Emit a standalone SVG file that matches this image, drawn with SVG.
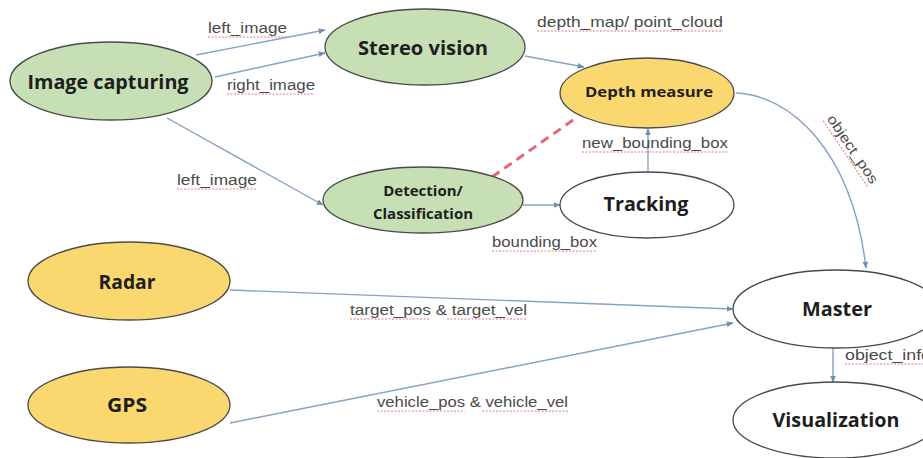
<svg xmlns="http://www.w3.org/2000/svg" width="923" height="458" viewBox="0 0 923 458">
<style>
.node{stroke:#4a4a4a;stroke-width:1.3}
.green{fill:#c6dfb4}
.yellow{fill:#fad86f}
.white{fill:#ffffff}
.nt{font-family:"Open Sans","Liberation Sans",sans-serif;font-weight:bold;fill:#1e1e1e;text-anchor:middle;dominant-baseline:central}
.conn{fill:none;stroke:#86a2c4;stroke-width:1.4}
.dash{fill:none;stroke:#e0687a;stroke-width:3;stroke-dasharray:9 6}
.lbl{font-family:"Liberation Sans","Open Sans",sans-serif;font-size:14px;fill:#4a4a4a}
.sq{stroke:#e07a8a;stroke-width:1;stroke-dasharray:2 1.5}
</style>
<defs>
<marker id="arr" viewBox="0 0 10 10" refX="9" refY="5" markerWidth="5" markerHeight="5" orient="auto">
<path d="M0,1 L10,5 L0,9 z" fill="#6f8fb5"/>
</marker>
</defs>
<rect width="923" height="458" fill="#ffffff"/>
<g id="connectors">
<line class="conn" x1="196" y1="55" x2="325" y2="30" marker-end="url(#arr)"/>
<line class="conn" x1="215" y1="77" x2="325" y2="53" marker-end="url(#arr)"/>
<line class="conn" x1="167" y1="118" x2="323" y2="205" marker-end="url(#arr)"/>
<line class="conn" x1="525" y1="56" x2="584" y2="67" marker-end="url(#arr)"/>
<line class="dash" x1="492" y1="177" x2="576" y2="118"/>
<line class="conn" x1="648" y1="172" x2="648" y2="129" marker-end="url(#arr)"/>
<line class="conn" x1="523" y1="205" x2="560" y2="205" marker-end="url(#arr)"/>
<path class="conn" d="M736,93 C790,95 852,150 866,268" marker-end="url(#arr)"/>
<line class="conn" x1="230" y1="290" x2="733" y2="309" marker-end="url(#arr)"/>
<line class="conn" x1="230" y1="423" x2="733" y2="323" marker-end="url(#arr)"/>
<line class="conn" x1="833" y1="348" x2="833" y2="382" marker-end="url(#arr)"/>
</g>
<g id="labels">
<text class="lbl" x="208" y="33" textLength="79" lengthAdjust="spacingAndGlyphs">left_image</text>
<line class="sq" x1="208" y1="37" x2="287" y2="37"/>
<text class="lbl" x="227" y="90" textLength="88" lengthAdjust="spacingAndGlyphs">right_image</text>
<line class="sq" x1="227" y1="94" x2="315" y2="94"/>
<text class="lbl" x="177" y="185" textLength="80" lengthAdjust="spacingAndGlyphs">left_image</text>
<line class="sq" x1="177" y1="189" x2="257" y2="189"/>
<text class="lbl" x="537" y="27" textLength="186" lengthAdjust="spacingAndGlyphs">depth_map/ point_cloud</text>
<line class="sq" x1="537" y1="31" x2="723" y2="31"/>
<text class="lbl" x="582" y="148" textLength="146" lengthAdjust="spacingAndGlyphs">new_bounding_box</text>
<line class="sq" x1="582" y1="152" x2="728" y2="152"/>
<text class="lbl" x="492" y="247" textLength="105" lengthAdjust="spacingAndGlyphs">bounding_box</text>
<line class="sq" x1="492" y1="251" x2="597" y2="251"/>
<g transform="translate(853,149) rotate(56)">
<text class="lbl" x="-40" y="5" textLength="80" lengthAdjust="spacingAndGlyphs">object_pos</text>
<line class="sq" x1="-40" y1="9" x2="40" y2="9"/>
</g>
<text class="lbl" x="350" y="315" textLength="177" lengthAdjust="spacingAndGlyphs">target_pos &amp; target_vel</text>
<line class="sq" x1="350" y1="319" x2="430" y2="319"/>
<line class="sq" x1="447" y1="319" x2="527" y2="319"/>
<text class="lbl" x="377" y="407" textLength="191" lengthAdjust="spacingAndGlyphs">vehicle_pos &amp; vehicle_vel</text>
<line class="sq" x1="377" y1="411" x2="465" y2="411"/>
<line class="sq" x1="482" y1="411" x2="568" y2="411"/>
<text class="lbl" x="845" y="360" textLength="86" lengthAdjust="spacingAndGlyphs">object_info</text>
<line class="sq" x1="845" y1="364" x2="931" y2="364"/>
</g>
<g id="image-capturing">
<ellipse class="node green" cx="111" cy="81" rx="101" ry="39"/>
<text class="nt" x="108" y="81" font-size="20" textLength="161" lengthAdjust="spacingAndGlyphs">Image capturing</text>
</g>
<g id="stereo-vision">
<ellipse class="node green" cx="425" cy="47" rx="100" ry="38"/>
<text class="nt" x="423" y="47" font-size="20" textLength="130" lengthAdjust="spacingAndGlyphs">Stereo vision</text>
</g>
<g id="depth-measure">
<ellipse class="node yellow" cx="647" cy="93" rx="87" ry="35"/>
<text class="nt" x="649" y="91" font-size="15" textLength="128" lengthAdjust="spacingAndGlyphs">Depth measure</text>
</g>
<g id="detection">
<ellipse class="node green" cx="423" cy="200" rx="100" ry="33"/>
<text class="nt" x="423" y="190" font-size="15">Detection/</text>
<text class="nt" x="423" y="213" font-size="15">Classification</text>
</g>
<g id="tracking">
<ellipse class="node white" cx="647" cy="205" rx="87" ry="33"/>
<text class="nt" x="646" y="204" font-size="19" textLength="85" lengthAdjust="spacingAndGlyphs">Tracking</text>
</g>
<g id="radar">
<ellipse class="node yellow" cx="129" cy="281" rx="101" ry="39"/>
<text class="nt" x="127" y="282" font-size="19" textLength="57" lengthAdjust="spacingAndGlyphs">Radar</text>
</g>
<g id="gps">
<ellipse class="node yellow" cx="129" cy="405" rx="101" ry="38"/>
<text class="nt" x="127" y="405" font-size="19" textLength="40" lengthAdjust="spacingAndGlyphs">GPS</text>
</g>
<g id="master">
<ellipse class="node white" cx="836" cy="309" rx="103" ry="39"/>
<text class="nt" x="837" y="309" font-size="19" textLength="70" lengthAdjust="spacingAndGlyphs">Master</text>
</g>
<g id="visualization">
<ellipse class="node white" cx="835" cy="420" rx="102" ry="38"/>
<text class="nt" x="836" y="420" font-size="19" textLength="127" lengthAdjust="spacingAndGlyphs">Visualization</text>
</g>
</svg>
